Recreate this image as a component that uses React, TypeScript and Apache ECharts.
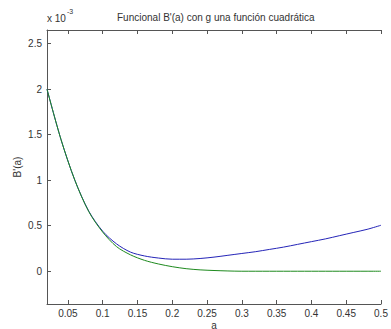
import React, { useEffect, useRef } from "react";
import * as echarts from "echarts";

// values in units of 1e-3
const aValues = [0.02, 0.04, 0.06, 0.08, 0.10, 0.12, 0.14, 0.16, 0.18, 0.20, 0.22, 0.24, 0.26, 0.28, 0.30, 0.32, 0.34, 0.36, 0.38, 0.40, 0.42, 0.44, 0.46, 0.48, 0.50];
const blueValues = [2.0, 1.45, 1.0, 0.66, 0.44, 0.30, 0.21, 0.168, 0.145, 0.132, 0.132, 0.14, 0.155, 0.175, 0.195, 0.215, 0.24, 0.265, 0.295, 0.325, 0.355, 0.39, 0.425, 0.46, 0.505];
const greenValues = [2.0, 1.45, 1.0, 0.655, 0.43, 0.27, 0.18, 0.12, 0.08, 0.05, 0.028, 0.015, 0.008, 0.003, 0.0, 0.0, 0.0, 0.0, 0.0, 0.0, 0.0, 0.0, 0.0, 0.0, 0.0];
const xTicks = [0.05, 0.1, 0.15, 0.2, 0.25, 0.3, 0.35, 0.4, 0.45, 0.5];
const yTicks = [0, 0.5, 1, 1.5, 2, 2.5];

const titleText = "Funcional B'(a) con g una función cuadrática";
const FONT = "Liberation Sans, Arial, sans-serif";
const AXIS = "#555";
const TEXT = "#333";

export default function App() {
  const ref = useRef<HTMLDivElement>(null);
  useEffect(() => {
    if (!ref.current) return;
    const chart = echarts.init(ref.current, undefined, { renderer: "svg" });
    const pair = (vals: number[]) => aValues.map((a, i) => [a, vals[i]]);
    const axisLine = { show: true, onZero: false, lineStyle: { color: AXIS, width: 1 } };
    chart.setOption({
      animation: false,
      backgroundColor: "#fff",
      grid: { left: 47, right: 10, top: 30, bottom: 25, containLabel: false, outerBoundsMode: "none" },
      xAxis: [
        {
          type: "value",
          min: 0.02,
          max: 0.5,
          position: "bottom",
          name: "a",
          nameLocation: "middle",
          nameGap: 16,
          nameMoveOverlap: false,
          nameTextStyle: { color: TEXT, fontSize: 10, fontFamily: FONT },
          axisLine,
          axisTick: { show: true, inside: true, length: 4, customValues: xTicks, lineStyle: { color: AXIS } },
          axisLabel: { show: true, customValues: xTicks, color: TEXT, fontSize: 10, fontFamily: FONT, margin: 4 },
          splitLine: { show: false },
        },
        {
          type: "value",
          min: 0.02,
          max: 0.5,
          position: "top",
          axisLine,
          axisTick: { show: true, inside: true, length: 4, customValues: xTicks, lineStyle: { color: AXIS } },
          axisLabel: { show: false },
          splitLine: { show: false },
        },
      ],
      yAxis: {
        type: "value",
        min: -0.36,
        max: 2.65,
        name: "B'(a)",
        nameLocation: "middle",
        nameGap: 25,
        nameMoveOverlap: false,
        nameRotate: 90,
        nameTextStyle: { color: TEXT, fontSize: 10, fontFamily: FONT },
        axisLine,
        axisTick: { show: true, inside: true, length: 4, customValues: yTicks, lineStyle: { color: AXIS } },
        axisLabel: { show: true, customValues: yTicks, color: TEXT, fontSize: 10, fontFamily: FONT, margin: 5 },
        splitLine: { show: false },
      },
      graphic: [
        {
          type: "text",
          left: 117,
          top: 12,
          style: { text: titleText, fill: TEXT, font: `10px ${FONT}` },
        },
        {
          type: "text",
          left: 47,
          top: 13,
          style: { text: "x 10", fill: TEXT, font: `10px ${FONT}` },
        },
        {
          type: "text",
          left: 67,
          top: 8,
          style: { text: "-3", fill: TEXT, font: `7px ${FONT}` },
        },
      ],
      series: [
        {
          type: "line",
          data: pair(blueValues),
          smooth: 0.3,
          showSymbol: false,
          lineStyle: { color: "#2424b8", width: 1 },
          itemStyle: { color: "#2424b8" },
        },
        {
          type: "line",
          data: pair(greenValues),
          smooth: 0.3,
          showSymbol: false,
          lineStyle: { color: "#1e8a1e", width: 1 },
          itemStyle: { color: "#1e8a1e" },
        },
      ],
    });
    return () => chart.dispose();
  }, []);
  return <div ref={ref} style={{ position: "fixed", left: 0, top: 0, width: 391, height: 329 }} />;
}
